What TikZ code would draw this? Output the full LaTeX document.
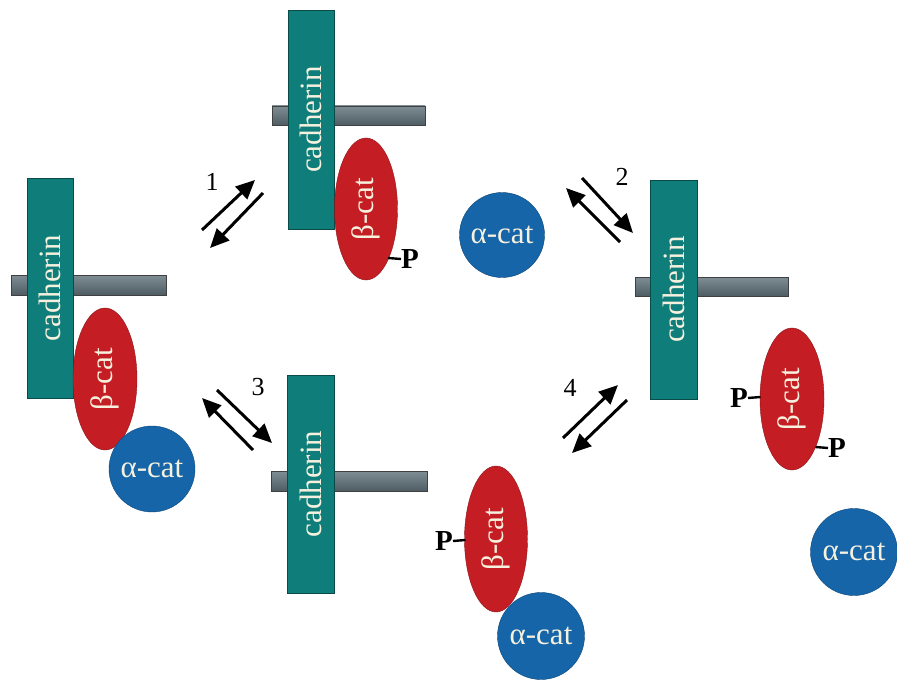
\documentclass[tikz,border=0pt]{standalone}
\usepackage{fontspec}
\setmainfont{Liberation Serif}
\usepackage{xcolor}
\usetikzlibrary{shapes.geometric,arrows.meta}
\definecolor{cadcol}{HTML}{0F7D7A}
\definecolor{bcatcol}{HTML}{C41E24}
\definecolor{acatcol}{HTML}{1565A8}
\definecolor{labcol}{HTML}{F6F1DF}
\definecolor{membtop}{HTML}{7E8E94}
\definecolor{membbot}{HTML}{4E5D63}
\begin{document}
\begin{tikzpicture}[x=1pt,y=-1pt,
  cad/.style={draw=cadcol!60!black,fill=cadcol,rotate=90,minimum width=219pt,minimum height=46pt,inner sep=0pt,text=labcol,font=\fontsize{31}{31}\selectfont},
  memb/.style={draw=black!75,top color=membtop,bottom color=membbot,line width=0.8pt},
  bcat/.style={ellipse,draw=bcatcol!70!black,fill=bcatcol,rotate=90,minimum width=142pt,minimum height=63pt,inner sep=0pt,text=labcol,font=\fontsize{31}{31}\selectfont},
  acat/.style={circle,draw=acatcol!70!black,fill=acatcol,minimum size=85pt,inner sep=0pt,text=labcol,font=\fontsize{31}{31}\selectfont},
  phos/.style={font=\fontsize{29}{29}\selectfont\bfseries,inner sep=0pt},
  pline/.style={line width=2.4pt},
  num/.style={font=\fontsize{26}{26}\selectfont,inner sep=0pt},
  eq/.style={line width=3pt,-{Triangle[length=19pt,width=17pt]}}]
\useasboundingbox(0,0)rectangle(897,682);
% top complex
\fill[memb](272,106)rectangle(425,125);
\node[cad](cad1)at(311,119.5){cadherin};
\node[bcat](bcat1)at(366,209){β-cat};
\coordinate(p1a)at(388,258);\node[phos,anchor=west](P1)at(401,259){P};
\draw[pline](p1a)--(P1.west);
\node[acat](acat1)at(502,235){α-cat};
% left complex
\fill[memb](11,275)rectangle(166,295);
\node[cad,minimum width=220pt](cad2)at(50,288){cadherin};
\node[bcat,minimum height=64pt](bcat2)at(105,379){β-cat};
\node[acat,minimum size=86pt](acat2)at(152,469){α-cat};
% right complex
\fill[memb](635,277)rectangle(788,296);
\node[cad,minimum height=47pt](cad3)at(673.5,289.5){cadherin};
\node[bcat,minimum height=64pt](bcat3)at(792,399){β-cat};
\coordinate(p3a)at(760.5,397);\node[phos,anchor=east](P3a)at(748,398){P};
\draw[pline](p3a)--(P3a.east);
\coordinate(p3b)at(815.5,447);\node[phos,anchor=west](P3b)at(828,448){P};
\draw[pline](p3b)--(P3b.west);
\node[acat,minimum size=87pt](acat3)at(854,552){α-cat};
% bottom complex
\fill[memb](271,471)rectangle(427,491);
\node[cad,minimum width=218pt,minimum height=47pt](cad4)at(310.5,484){cadherin};
\node[bcat,minimum width=146pt](bcat4)at(496,539){β-cat};
\coordinate(p4a)at(465.5,540);\node[phos,anchor=east](P4)at(453,541){P};
\draw[pline](p4a)--(P4.east);
\node[acat,minimum size=87pt](acat4)at(541,636){α-cat};
% equilibria
\coordinate(e1a)at(202,230);\coordinate(e1b)at(255,180);\coordinate(e1c)at(263,193);\coordinate(e1d)at(210,248);
\draw[eq](e1a)--(e1b);\draw[eq](e1c)--(e1d);\node[num](n1)at(212,182){1};
\coordinate(e2a)at(620,242);\coordinate(e2b)at(566,188);\coordinate(e2c)at(582,178);\coordinate(e2d)at(633,233);
\draw[eq](e2a)--(e2b);\draw[eq](e2c)--(e2d);\node[num](n2)at(622,177){2};
\coordinate(e3a)at(253,450);\coordinate(e3b)at(202,398);\coordinate(e3c)at(217,390);\coordinate(e3d)at(272,443);
\draw[eq](e3a)--(e3b);\draw[eq](e3c)--(e3d);\node[num](n3)at(258,387){3};
\coordinate(e4a)at(563,438);\coordinate(e4b)at(618,385);\coordinate(e4c)at(627,400);\coordinate(e4d)at(572,453);
\draw[eq](e4a)--(e4b);\draw[eq](e4c)--(e4d);\node[num](n4)at(570,388){4};
\end{tikzpicture}
\end{document}
